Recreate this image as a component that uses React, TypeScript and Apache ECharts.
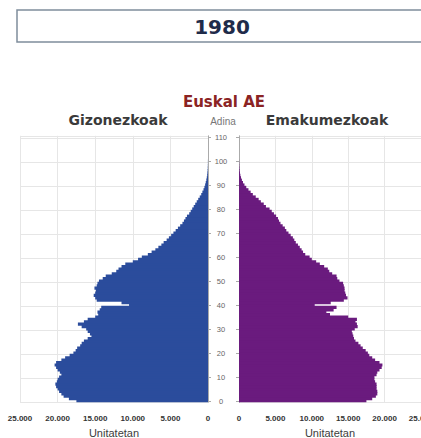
import React, { useEffect, useRef } from "react";
import * as echarts from "echarts";

// Population by single year of age, 1980 (units = persons)
const ages: number[] = Array.from({ length: 111 }, (_, i) => i);
const ageTickLabels = ["0", "10", "20", "30", "40", "50", "60", "70", "80", "90", "100", "110"];

const men: number[] = [
  17500, 18500, 19200, 19500, 19800, 20000, 20200, 20300, 20100, 20000,
  19800, 19500, 19700, 20000, 20200, 20400, 20200, 19500, 19000, 18400,
  17900, 17600, 17400, 17000, 16800, 16500, 16000, 15500, 15700, 16000,
  16200, 16800, 17300, 16500, 16000, 15000, 14600, 14700, 14400, 14200,
  10500, 11500, 14800, 15000, 15200, 15000, 14900, 15100, 14800, 14700,
  14500, 14000, 13600, 12800, 12200, 11900, 11500, 11000, 10000, 9300,
  8800, 8000, 7500, 7000, 6600, 6200, 5900, 5500, 5200, 4900,
  4600, 4300, 4000, 3700, 3400, 3200, 3000, 2800, 2500, 2300,
  2100, 1900, 1700, 1500, 1300, 1100, 900, 750, 600, 480,
  380, 300, 220, 160, 110, 80, 50, 30, 20, 10,
  10,
];

const women: number[] = [
  17500, 18300, 18800, 19000, 19000, 18900, 18900, 18900, 18700, 18600,
  18600, 18900, 19000, 19300, 19600, 19700, 19300, 18700, 18300, 17900,
  17700, 17400, 17000, 16700, 16400, 16000, 15800, 15700, 15600, 15500,
  15900, 16300, 16200, 16000, 16200, 15000, 12500, 12000, 13000, 13400,
  10400, 12600, 14400, 14900, 14700, 14600, 14500, 14500, 14400, 14300,
  13800, 13500, 13400, 12800, 12400, 12200, 11700, 11100, 10600, 10000,
  9700, 9100, 8800, 8600, 8350, 8100, 7800, 7600, 7400, 7100,
  6800, 6500, 6300, 6000, 5700, 5500, 5350, 5100, 4800, 4500,
  4200, 3700, 3400, 3000, 2700, 2300, 1900, 1600, 1300, 1000,
  750, 550, 400, 280, 190, 130, 80, 50, 30, 20,
  10,
];

const fmt = (v: number) => String(v).replace(/\B(?=(\d{3})+(?!\d))/g, ".");

export default function App() {
  const ref = useRef<HTMLDivElement>(null);

  useEffect(() => {
    if (!ref.current) return;
    const chart = echarts.init(ref.current, undefined, { renderer: "svg" });
    const cats = ages.map(String);
    const xLabel = {
      fontSize: 8,
      fontWeight: "bold" as const,
      color: "#333",
      fontFamily: "Liberation Sans",
      margin: 12,
      formatter: (v: number) => fmt(v),
    };
    const xName = {
      name: "Unitatetan",
      nameLocation: "middle" as const,
      nameGap: 22,
      nameTextStyle: { fontSize: 11, color: "#3c3c3c", fontFamily: "Liberation Sans" },
    };
    const split = { show: true, lineStyle: { color: "#e6e6e6", width: 1 } };
    chart.setOption({
      animation: false,
      backgroundColor: "#ffffff",
      grid: [
        { left: 20, right: 213, top: 135.8, bottom: 35.8, outerBoundsMode: "none", containLabel: false },
        { left: 239, right: 0, top: 135.8, bottom: 35.8, outerBoundsMode: "none", containLabel: false },
      ],
      xAxis: [
        {
          type: "value",
          gridIndex: 0,
          min: 0,
          max: 25000,
          interval: 5000,
          inverse: true,
          axisLine: { show: false },
          axisTick: { show: false },
          axisLabel: xLabel,
          splitLine: split,
          ...xName,
        },
        {
          type: "value",
          gridIndex: 1,
          min: 0,
          max: 25000,
          interval: 5000,
          axisLine: { show: false },
          axisTick: { show: false },
          axisLabel: xLabel,
          splitLine: split,
          ...xName,
        },
      ],
      yAxis: [
        {
          type: "category",
          gridIndex: 0,
          data: cats,
          position: "right",
          axisLine: { show: true, lineStyle: { color: "#aaaaaa" } },
          axisTick: { show: true, interval: 9, alignWithLabel: true, length: 3, lineStyle: { color: "#aaaaaa" } },
          axisLabel: { show: false, interval: 9 },
          splitLine: { show: true, interval: 9, lineStyle: { color: "#e6e6e6" } },
        },
        {
          type: "category",
          gridIndex: 1,
          data: cats,
          position: "left",
          axisLine: { show: true, lineStyle: { color: "#aaaaaa" } },
          axisTick: { show: true, interval: 9, alignWithLabel: true, length: 3, lineStyle: { color: "#aaaaaa" } },
          axisLabel: {
            show: true,
            interval: 9,
            align: "center",
            margin: 18,
            fontSize: 7.5,
            color: "#666",
            fontFamily: "Liberation Sans",
            formatter: (v: string) => (ageTickLabels.includes(v) ? v : ""),
          },
          splitLine: { show: true, interval: 9, lineStyle: { color: "#e6e6e6" } },
        },
      ],
      series: [
        {
          type: "bar",
          name: "Gizonezkoak",
          xAxisIndex: 0,
          yAxisIndex: 0,
          data: men,
          barWidth: 3.2,
          itemStyle: { color: "#2b4c9c" },
        },
        {
          type: "bar",
          name: "Emakumezkoak",
          xAxisIndex: 1,
          yAxisIndex: 1,
          data: women,
          barWidth: 3.2,
          itemStyle: { color: "#6a1b7e" },
        },
      ],
      graphic: [
        {
          type: "rect",
          shape: { x: 17, y: 10, width: 430, height: 32 },
          style: { fill: "#ffffff", stroke: "#7f8d9c", lineWidth: 1.5 },
        },
        {
          type: "text",
          style: {
            text: "1980",
            x: 222,
            y: 27,
            textAlign: "center",
            textVerticalAlign: "middle",
            font: "bold 20px 'DejaVu Sans'",
            fill: "#1f2b4a",
          },
        },
        {
          type: "text",
          style: {
            text: "Euskal AE",
            x: 224,
            y: 102,
            textAlign: "center",
            textVerticalAlign: "middle",
            font: "bold 15px 'DejaVu Sans'",
            fill: "#8b2323",
          },
        },
        {
          type: "text",
          style: {
            text: "Gizonezkoak",
            x: 118,
            y: 120,
            textAlign: "center",
            textVerticalAlign: "middle",
            font: "bold 14px 'DejaVu Sans'",
            fill: "#3a3a3a",
          },
        },
        {
          type: "text",
          style: {
            text: "Adina",
            x: 223,
            y: 121,
            textAlign: "center",
            textVerticalAlign: "middle",
            font: "10px 'Liberation Sans'",
            fill: "#777777",
          },
        },
        {
          type: "text",
          style: {
            text: "Emakumezkoak",
            x: 327,
            y: 120,
            textAlign: "center",
            textVerticalAlign: "middle",
            font: "bold 14px 'DejaVu Sans'",
            fill: "#3a3a3a",
          },
        },
      ],
    });
    return () => chart.dispose();
  }, []);

  return (
    <div
      ref={ref}
      style={{ position: "fixed", left: 0, top: 0, width: 421, height: 438, background: "#fff" }}
    />
  );
}
